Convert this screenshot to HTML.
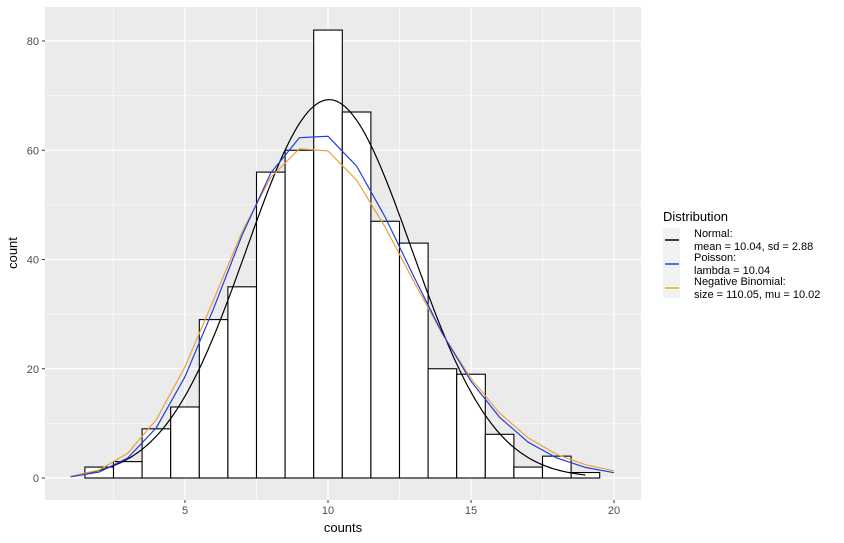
<!DOCTYPE html>
<html><head><meta charset="utf-8"><style>
body{margin:0;background:#fff;}
svg{display:block;font-family:"Liberation Sans",sans-serif;}
</style></head><body>
<svg id="s" width="844" height="543" xmlns="http://www.w3.org/2000/svg">
<rect x="45" y="7" width="596" height="493" fill="#ebebeb"/>
<g id="grid"></g>
<g id="bars"></g>
<g id="lines"></g>
<g id="axes" font-size="11" fill="#4d4d4d"></g>
<text x="343" y="532" font-size="13" text-anchor="middle" fill="#000">counts</text>
<text transform="translate(17,253) rotate(-90)" font-size="13" text-anchor="middle" fill="#000">count</text>
<text x="663" y="221" font-size="13" fill="#000">Distribution</text>
<rect x="663" y="228" width="17" height="23" fill="#f2f2f2"/>
<rect x="663" y="251" width="17" height="23" fill="#f2f2f2"/>
<rect x="663" y="274" width="17" height="24" fill="#f2f2f2"/>
<line x1="665" x2="679" y1="240" y2="240" stroke="#000" stroke-width="1.5"/>
<line x1="665" x2="679" y1="264" y2="264" stroke="#1f3fe0" stroke-width="1.5"/>
<line x1="665" x2="679" y1="288" y2="288" stroke="#e8a33c" stroke-width="1.5"/>
<g font-size="11" fill="#000">
<text x="694" y="237">Normal:</text>
<text x="694" y="250">mean = 10.04, sd = 2.88</text>
<text x="694" y="261">Poisson:</text>
<text x="694" y="274">lambda = 10.04</text>
<text x="694" y="285">Negative Binomial:</text>
<text x="694" y="298">size = 110.05, mu = 10.02</text>
</g>
</svg>
<script>
const X=v=>185+(v-5)*28.6, Y=v=>478-v*5.4625;
const ns="http://www.w3.org/2000/svg";
function el(p,t,a){const e=document.createElementNS(ns,t);for(const k in a)e.setAttribute(k,a[k]);document.getElementById(p).appendChild(e);return e;}
for(let v=10;v<=90;v+=20){if(Y(v)>7)el('grid','line',{x1:45,x2:641,y1:Y(v),y2:Y(v),stroke:'#fff','stroke-width':0.6});}
for(let v=2.5;v<=20;v+=5)el('grid','line',{x1:X(v),x2:X(v),y1:7,y2:500,stroke:'#fff','stroke-width':0.6});
for(let v=0;v<=80;v+=20){el('grid','line',{x1:45,x2:641,y1:Y(v),y2:Y(v),stroke:'#fff','stroke-width':1.2});
 el('axes','line',{x1:42,x2:45,y1:Y(v),y2:Y(v),stroke:'#333'});
 const t=el('axes','text',{x:39,y:Y(v)+4,'text-anchor':'end'});t.textContent=v;}
for(let v=5;v<=20;v+=5){el('grid','line',{x1:X(v),x2:X(v),y1:7,y2:500,stroke:'#fff','stroke-width':1.2});
 el('axes','line',{x1:X(v),x2:X(v),y1:500,y2:503,stroke:'#333'});
 const t=el('axes','text',{x:X(v),y:514,'text-anchor':'middle'});t.textContent=v;}
const c={2:2,3:3,4:9,5:13,6:29,7:35,8:56,9:60,10:82,11:67,12:47,13:43,14:20,15:19,16:8,17:2,18:4,19:1};
for(const k in c){const x=X(+k-0.5),w=28.6;el('bars','rect',{x:x,y:Y(c[k]),width:w,height:Y(0)-Y(c[k]),fill:'#fff',stroke:'#000','stroke-width':1.1});}
// normal
let p=[];for(let x=1.5;x<=19.001;x+=0.1){const d=500*Math.exp(-0.5*((x-10.04)/2.88)**2)/(2.88*Math.sqrt(2*Math.PI));p.push(X(x).toFixed(1)+','+Y(d).toFixed(1));}
el('lines','polyline',{points:p.join(' '),fill:'none',stroke:'#000','stroke-width':1.2});
function lg(n){let s=0;for(let i=2;i<=n;i++)s+=Math.log(i);return s;}
function lgam(z){// Lanczos
 const g=7,c=[0.99999999999980993,676.5203681218851,-1259.1392167224028,771.32342877765313,-176.61502916214059,12.507343278686905,-0.13857109526572012,9.9843695780195716e-6,1.5056327351493116e-7];
 z-=1;let x=c[0];for(let i=1;i<9;i++)x+=c[i]/(z+i);const t=z+g+0.5;return 0.5*Math.log(2*Math.PI)+(z+0.5)*Math.log(t)-t+Math.log(x);}
let pp=[],nb=[];const L=10.04,r=110.05,mu=10.02,q=r/(r+mu);
for(let k=1;k<=20;k++){pp.push(X(k)+','+Y(500*Math.exp(-L+k*Math.log(L)-lg(k))).toFixed(1));
 const l=lgam(k+r)-lgam(r)-lg(k)+r*Math.log(q)+k*Math.log(1-q);nb.push(X(k)+','+Y(500*Math.exp(l)).toFixed(1));}
el('lines','polyline',{points:nb.join(' '),fill:'none',stroke:'#e8a33c','stroke-width':1.2});
el('lines','polyline',{points:pp.join(' '),fill:'none',stroke:'#1f3fe0','stroke-width':1.2});
</script>
</body></html>
